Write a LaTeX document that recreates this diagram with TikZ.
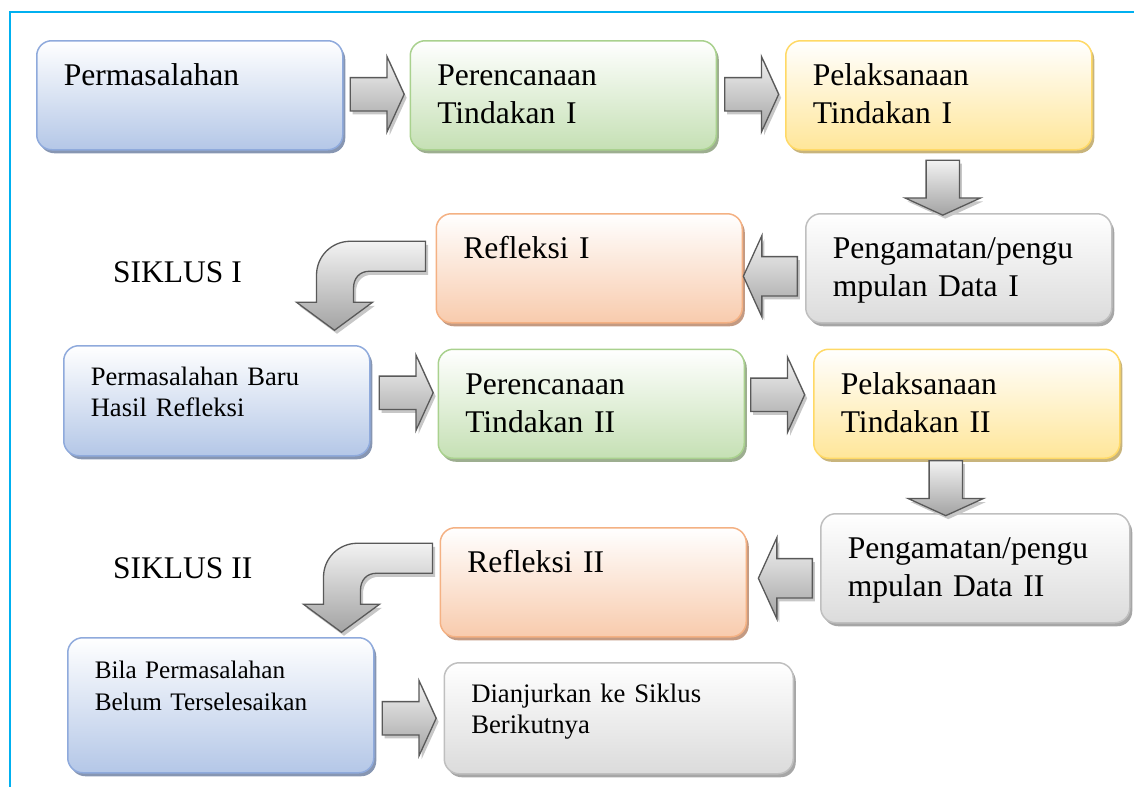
\documentclass[tikz,border=0pt]{standalone}
\usepackage{fontspec}
\setmainfont{Liberation Serif}
\usetikzlibrary{positioning,calc,shapes.arrows,shadows}
\definecolor{garisbiru}{HTML}{8FAADC}
\definecolor{isibiru}{HTML}{B4C7E7}
\definecolor{bayangbiru}{HTML}{8796B2}
\definecolor{garishijau}{HTML}{A9D18E}
\definecolor{isihijau}{HTML}{C5E0B4}
\definecolor{bayanghijau}{HTML}{9DAE90}
\definecolor{gariskuning}{HTML}{FFD966}
\definecolor{isikuning}{HTML}{FFE699}
\definecolor{bayangkuning}{HTML}{C8B47C}
\definecolor{garisjingga}{HTML}{F4B183}
\definecolor{isijingga}{HTML}{F8CBAD}
\definecolor{bayangjingga}{HTML}{C39A82}
\definecolor{garisabu}{HTML}{BFBFBF}
\definecolor{isiabu}{HTML}{DBDBDB}
\definecolor{bayangabu}{HTML}{A6A6A6}
\definecolor{panahgaris}{HTML}{595959}
\definecolor{panahisi}{HTML}{A3A3A3}
\definecolor{bingkai}{HTML}{00B0F0}
\newcommand\teksBesar{\fontsize{31.6}{38}\selectfont}
\newcommand\teksKecil{\fontsize{26.6}{31}\selectfont}
\newcommand\teksSempit{\fontsize{25.2}{32}\selectfont}
\newcommand\teksBiasa{\fontsize{26.7}{31}\selectfont}
\newcommand\teksSiklus{\fontsize{31.5}{36}\selectfont}
\tikzset{
  bayang/.style={drop shadow={shadow xshift=2.5pt,shadow yshift=-3.5pt,opacity=1,fill=#1}},
  kotak/.style={rounded corners=15pt,line width=1.5pt,inner xsep=27pt,inner ysep=0pt,
    text width=252pt,text height=45pt,text depth=64pt,align=left,font=\teksBesar},
  biru/.style={kotak,draw=garisbiru,top color=white,bottom color=isibiru,bayang=bayangbiru},
  hijau/.style={kotak,draw=garishijau,top color=white,bottom color=isihijau,bayang=bayanghijau},
  kuning/.style={kotak,draw=gariskuning,top color=white,bottom color=isikuning,bayang=bayangkuning},
  jingga/.style={kotak,draw=garisjingga,top color=white,bottom color=isijingga,bayang=bayangjingga},
  abu/.style={kotak,draw=garisabu,top color=white,bottom color=isiabu,bayang=bayangabu},
  panah/.style={single arrow,draw=panahgaris,line width=1.3pt,top color=white!95!black,bottom color=panahisi,
    inner sep=0pt,inner ysep=16pt,minimum width=74pt,minimum height=54pt,
    single arrow head extend=21pt,single arrow tip angle=131,anchor=tail,bayang=black!22},
  panahkiri/.style={panah,shape border rotate=180,inner ysep=19pt,minimum width=78pt},
  panahbawah/.style={panah,shape border rotate=270,inner ysep=0pt,inner xsep=16pt,minimum height=55pt},
  lengkungan/.style={draw=panahgaris,line width=1.3pt,top color=white!95!black,bottom color=panahisi,bayang=black!22},
  lengkung/.pic={
    \path[lengkungan] (0,0) -- (-75,0) .. controls (-94,0) and (-109,15) .. (-109,34) -- (-109,61)
      -- (-129,61) -- (-91,89) -- (-53,61) -- (-72,61) -- (-72,47)
      .. controls (-72,37) and (-66,30) .. (-56,30) -- (0,30) -- cycle;
  },
  siklus/.style={font=\teksSiklus,inner sep=0pt},
  tepi/.style={draw=bingkai,line width=2pt},
}
\begin{document}
\begin{tikzpicture}[x=1pt,y=-1pt,node distance=67pt]
  \useasboundingbox (0,0) rectangle (1134,787);
  \draw[tepi] (1134,12) -| (10,787);
  % siklus I
  \node[biru,anchor=north west] (perm) at (36,40) {Permasalahan};
  \node[hijau,right=66pt of perm] (ren1) {Perencanaan\\Tindakan I};
  \node[kuning,right=68pt of ren1] (lak1) {Pelaksanaan\\Tindakan I};
  \node[abu,anchor=north west] (amat1) at (805,213) {Pengamatan/pengu\\mpulan Data I};
  \node[jingga,left=62pt of amat1] (ref1) {Refleksi I};
  \node[siklus,anchor=base west] (sik1) at (113,282) {SIKLUS I};
  % siklus II
  \node[biru,anchor=north west,font=\teksKecil,text height=40pt,text depth=70pt] (baru) at (63,345) {Permasalahan Baru\\Hasil Refleksi};
  \node[hijau,right=67pt of baru,yshift=-3pt] (ren2) {Perencanaan\\Tindakan II};
  \node[kuning,right=68pt of ren2] (lak2) {Pelaksanaan\\Tindakan II};
  \node[abu,anchor=north west,text width=255pt] (amat2) at (820,513) {Pengamatan/pengu\\mpulan Data II};
  \node[jingga,left=73pt of amat2,yshift=-14pt] (ref2) {Refleksi II};
  \node[siklus,anchor=base west] (sik2) at (113,578) {SIKLUS II};
  \node[biru,anchor=north west,font=\teksSempit,text height=41pt,text depth=94pt] (bila) at (67,637) {Bila Permasalahan\\Belum Terselesaikan};
  \node[abu,right=69pt of bila,yshift=-13pt,font=\teksBiasa,text width=295pt,text height=40pt,text depth=71pt] (anjur) {Dianjurkan ke Siklus\\Berikutnya};
  % panah
  \node[panah] (p1) at ($(perm.east)+(6,-1)$) {};
  \node[panah] (p2) at ($(ren1.east)+(7,-1)$) {};
  \node[panahbawah] (p3) at ($(lak1.south)+(4,9)$) {};
  \node[panahkiri] (p4) at ($(amat1.west)+(-7,8)$) {};
  \pic at ($(ref1.west)+(-10,-27)$) {lengkung};
  \node[panah] (p5) at ($(baru.east)+(8,-8)$) {};
  \node[panah] (p6) at ($(ren2.east)+(5,-9)$) {};
  \node[panahbawah] (p7) at ($(lak2.south)+(-21,1)$) {};
  \node[panahkiri] (p8) at ($(amat2.west)+(-7,10)$) {};
  \pic at ($(ref2.west)+(-7,-39)$) {lengkung};
  \node[panah] (p9) at ($(bila.east)+(7,13)$) {};
\end{tikzpicture}
\end{document}
